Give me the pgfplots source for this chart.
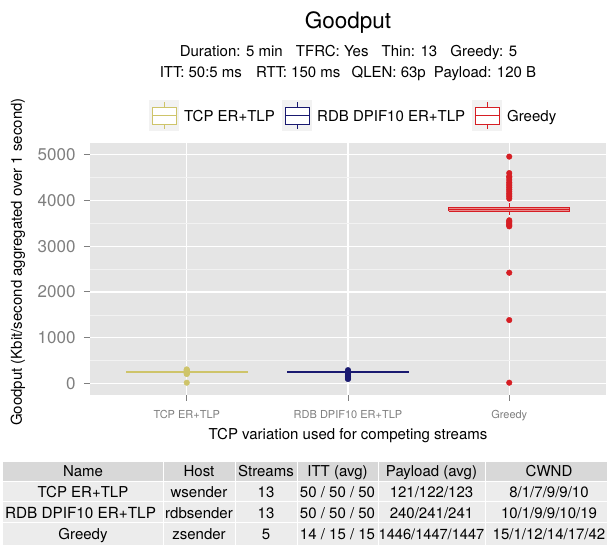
\documentclass[border=0pt]{standalone}
\usepackage{pgfplots}
\pgfplotsset{compat=1.18}
\usepackage{fontspec}
\setmainfont{TeX Gyre Heros}
\definecolor{ggbg}{RGB}{229,229,229}
\definecolor{ggminor}{RGB}{242,242,242}
\definecolor{ggtick}{RGB}{127,127,127}
\definecolor{tcpc}{RGB}{206,196,106}
\definecolor{rdbc}{RGB}{25,25,112}
\definecolor{grc}{RGB}{214,30,36}
\definecolor{grfill}{RGB}{232,140,140}
\definecolor{keybg}{RGB}{242,242,242}
\definecolor{thead}{RGB}{216,216,216}
\definecolor{trow}{RGB}{236,236,236}
\newcommand{\fs}[1]{\fontsize{#1}{#1}\selectfont}
\begin{document}
\begin{tikzpicture}
\path[use as bounding box] (0pt,0pt) rectangle (607pt,545pt);
\begin{axis}[
  at={(90pt,150pt)}, anchor=south west,
  scale only axis, width=516pt, height=252pt,
  xmin=-0.6, xmax=2.6, ymin=-254, ymax=5258,
  axis background/.style={fill=ggbg},
  axis line style={draw=none},
  xtick={0,1,2},
  xticklabels={TCP ER+TLP, RDB DPIF10 ER+TLP, Greedy},
  ytick={0,1000,2000,3000,4000,5000},
  minor ytick={500,1500,2500,3500,4500},
  grid=both,
  major grid style={white, line width=1.3pt},
  minor grid style={ggminor, line width=0.6pt},
  tick align=outside, xtick pos=bottom, ytick pos=left,
  major tick length=6pt, minor tick length=0pt,
  tick style={ggtick, line width=1pt},
  /pgf/number format/assume math mode=true,
  /pgf/number format/1000 sep={},
  yticklabel style={font=\fs{17}, text=ggtick, xshift=-5pt},
  xticklabel style={font=\fs{11}, text=ggtick, yshift=-6pt},
  clip=false,
]
% TCP ER+TLP
\addplot[tcpc, line width=1.2pt, fill=tcpc] coordinates {(-0.375,244) (0.375,244) (0.375,254) (-0.375,254) (-0.375,244)};
\addplot[only marks, mark=*, mark size=2.8pt, tcpc] coordinates {(0,15) (0,205) (0,220) (0,235) (0,250) (0,265) (0,280) (0,295) (0,305)};
% RDB DPIF10 ER+TLP
\addplot[rdbc, line width=1.2pt, fill=rdbc] coordinates {(0.625,244) (1.375,244) (1.375,254) (0.625,254) (0.625,244)};
\addplot[only marks, mark=*, mark size=2.8pt, rdbc] coordinates {(1,95) (1,110) (1,130) (1,150) (1,170) (1,190) (1,215) (1,260) (1,290)};
% Greedy
\addplot[grc, line width=1pt] coordinates {(2,3690) (2,3765)};
\addplot[grc, line width=1pt] coordinates {(2,3850) (2,3940)};
\addplot[grc, line width=1.2pt, fill=grfill] coordinates {(1.625,3765) (2.375,3765) (2.375,3850) (1.625,3850) (1.625,3765)};
\addplot[grc, line width=1.4pt] coordinates {(1.625,3808) (2.375,3808)};
\addplot[only marks, mark=*, mark size=2.8pt, grc] coordinates {
(2,15) (2,1385) (2,2420)
(2,3435) (2,3460) (2,3485) (2,3510) (2,3540) (2,3567)
(2,4040) (2,4080) (2,4120) (2,4160) (2,4200) (2,4240) (2,4280) (2,4320) (2,4360) (2,4400) (2,4450) (2,4500) (2,4530) (2,4600)
(2,4960)};
\end{axis}
% titles
\node[anchor=base] at (348pt,516pt) {\fs{22.5}Goodput};
\node[anchor=base] at (348.5pt,488pt) {\fs{15}Duration: 5 min\hspace{9pt} TFRC: Yes\hspace{9pt} Thin: 13\hspace{9pt} Greedy: 5};
\node[anchor=base] at (348pt,467pt) {\fs{15}ITT: 50:5 ms\hspace{10pt} RTT: 150 ms\hspace{7pt} QLEN: 63p\hspace{4pt} Payload: 120 B};
% axis titles
\node[anchor=base] at (348pt,105pt) {\fs{15}TCP variation used for competing streams};
\node[rotate=90] at (18pt,283pt) {\fs{15}Goodput (Kbit/second aggregated over 1 second)};
% legend
\newcommand{\legkey}[2]{%
  \fill[keybg] (#1pt,414pt) rectangle ++(30pt,31pt);
  \draw[#2, line width=0.8pt] (#1pt+15pt,416pt) -- (#1pt+15pt,443pt);
  \filldraw[#2, fill=white, line width=0.8pt] (#1pt+3pt,421pt) rectangle (#1pt+27pt,438pt);
  \draw[#2, line width=0.8pt] (#1pt+3pt,429.5pt) -- (#1pt+27pt,429.5pt);}
\legkey{149}{tcpc}
\legkey{282}{rdbc}
\legkey{472}{grc}
\node[anchor=base west, inner sep=0pt] at (184pt,423pt) {\fs{15}TCP ER+TLP};
\node[anchor=base west, inner sep=0pt] at (317pt,423pt) {\fs{15}RDB DPIF10 ER+TLP};
\node[anchor=base west, inner sep=0pt] at (507pt,423pt) {\fs{15}Greedy};
% table
\foreach \xa/\xb in {3/162.5,163.5/234.5,235.5/296.5,297.5/377.5,378.5/484.5,485.5/640}{
  \fill[thead] (\xa pt,64pt) rectangle (\xb pt,83pt);
  \fill[trow] (\xa pt,43.5pt) rectangle (\xb pt,63pt);
  \fill[trow] (\xa pt,22.5pt) rectangle (\xb pt,42.5pt);
  \fill[trow] (\xa pt,0pt) rectangle (\xb pt,21.5pt);
}
\node[anchor=base] at (83pt,68pt) {\fs{15}Name};
\node[anchor=base] at (199pt,68pt) {\fs{15}Host};
\node[anchor=base] at (266pt,68pt) {\fs{15}Streams};
\node[anchor=base] at (337.5pt,68pt) {\fs{15}ITT (avg)};
\node[anchor=base] at (431.5pt,68pt) {\fs{15}Payload (avg)};
\node[anchor=base] at (549pt,68pt) {\fs{15}CWND};
\node[anchor=base] at (83pt,47pt) {\fs{15}TCP ER+TLP};
\node[anchor=base] at (199pt,47pt) {\fs{15}wsender};
\node[anchor=base] at (266pt,47pt) {\fs{15}13};
\node[anchor=base] at (337.5pt,47pt) {\fs{15}50 / 50 / 50};
\node[anchor=base] at (431.5pt,47pt) {\fs{15}121/122/123};
\node[anchor=base] at (549pt,47pt) {\fs{15}8/1/7/9/9/10};
\node[anchor=base] at (80.5pt,26pt) {\fs{15.3}RDB DPIF10 ER+TLP};
\node[anchor=base] at (199pt,26pt) {\fs{15}rdbsender};
\node[anchor=base] at (266pt,26pt) {\fs{15}13};
\node[anchor=base] at (337.5pt,26pt) {\fs{15}50 / 50 / 50};
\node[anchor=base] at (431.5pt,26pt) {\fs{15}240/241/241};
\node[anchor=base] at (549pt,26pt) {\fs{15}10/1/9/9/10/19};
\node[anchor=base] at (83pt,5pt) {\fs{15}Greedy};
\node[anchor=base] at (199pt,5pt) {\fs{15}zsender};
\node[anchor=base] at (266pt,5pt) {\fs{15}5};
\node[anchor=base] at (337.5pt,5pt) {\fs{15}14 / 15 / 15};
\node[anchor=base] at (431.5pt,5pt) {\fs{14.6}1446/1447/1447};
\node[anchor=base] at (549pt,5pt) {\fs{15}15/1/12/14/17/42};
\end{tikzpicture}
\end{document}
